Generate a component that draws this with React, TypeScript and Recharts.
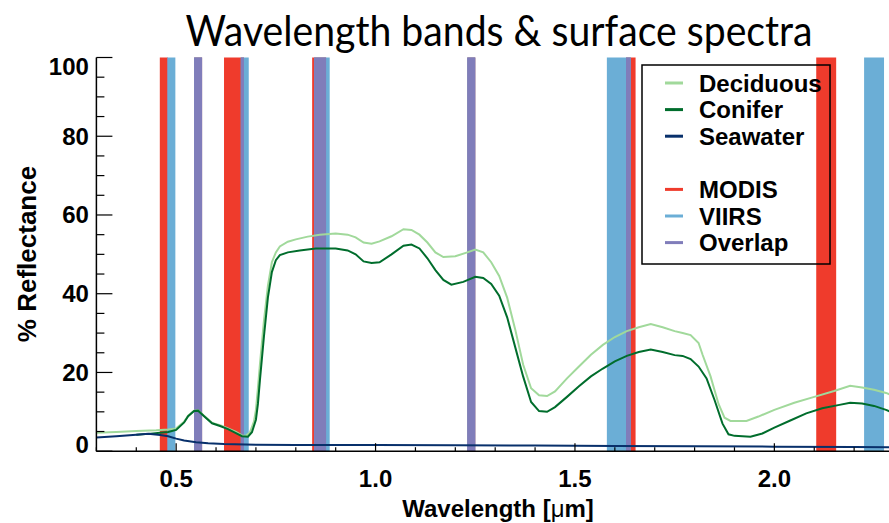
import React from 'react';
import { LineChart, Line, XAxis, YAxis, ReferenceArea } from 'recharts';

// wavelength [um], % reflectance
const deciduousSpectrum: [number, number][] = [
  [0.3, 4.7], [0.35, 4.9], [0.4, 5.1], [0.45, 5.3], [0.48, 5.5], [0.5, 5.8], [0.52, 7.5],
  [0.53, 9.0], [0.545, 10.3], [0.555, 10.4], [0.57, 9.0], [0.59, 7.2], [0.61, 6.6], [0.63, 5.8],
  [0.65, 4.9], [0.665, 4.0], [0.675, 3.9], [0.685, 4.8], [0.695, 7.5], [0.7, 10.5], [0.705, 16],
  [0.71, 22], [0.72, 33], [0.73, 42], [0.74, 48], [0.75, 50.5], [0.76, 52], [0.78, 53.2],
  [0.8, 53.8], [0.83, 54.5], [0.86, 55.0], [0.9, 55.3], [0.93, 55.0], [0.95, 54.3], [0.97, 53.0],
  [0.99, 52.7], [1.01, 53.3], [1.04, 54.6], [1.07, 56.4], [1.09, 56.2], [1.11, 55.0], [1.13, 53.0],
  [1.15, 50.5], [1.17, 49.3], [1.2, 49.5], [1.23, 50.5], [1.25, 51.2], [1.27, 50.5], [1.29, 48.0],
  [1.31, 44.5], [1.33, 39], [1.35, 31], [1.37, 22], [1.39, 16], [1.41, 14.2], [1.43, 14.0],
  [1.45, 15.2], [1.48, 18.5], [1.51, 21.5], [1.54, 24.5], [1.57, 27.0], [1.6, 29.0], [1.63, 30.5],
  [1.66, 31.5], [1.69, 32.3], [1.72, 31.5], [1.75, 30.5], [1.77, 30.0], [1.79, 29.5], [1.81, 27.5],
  [1.82, 24.5], [1.84, 19], [1.86, 12], [1.875, 8.5], [1.89, 7.7], [1.93, 7.7], [1.96, 8.8],
  [2.0, 10.5], [2.05, 12.3], [2.1, 13.8], [2.15, 15.3], [2.19, 16.6], [2.22, 16.2], [2.25, 15.6],
  [2.28, 14.8], [2.3, 14.0],
];

const coniferSpectrum: [number, number][] = [
  [0.4, 4.2], [0.43, 4.4], [0.46, 4.7], [0.48, 4.9], [0.5, 5.4], [0.52, 7.3], [0.53, 8.9],
  [0.545, 10.2], [0.555, 10.3], [0.57, 8.9], [0.59, 7.1], [0.61, 6.4], [0.63, 5.6], [0.65, 4.6],
  [0.665, 3.8], [0.68, 3.7], [0.69, 4.8], [0.7, 8], [0.705, 12], [0.71, 18], [0.72, 29],
  [0.73, 39], [0.74, 45.5], [0.75, 48.5], [0.76, 49.8], [0.78, 50.5], [0.81, 51.0], [0.85, 51.5],
  [0.9, 51.5], [0.93, 51.0], [0.95, 50.0], [0.97, 48.2], [0.99, 47.8], [1.01, 48.0], [1.04, 50.0],
  [1.07, 52.2], [1.09, 52.5], [1.11, 51.5], [1.13, 49.0], [1.15, 46.0], [1.17, 43.5], [1.19, 42.3],
  [1.22, 43.0], [1.25, 44.3], [1.27, 44.0], [1.29, 42.5], [1.31, 39.5], [1.33, 34.0], [1.35, 26.5],
  [1.37, 19], [1.39, 12.5], [1.41, 10.2], [1.43, 10.0], [1.45, 11.2], [1.48, 13.8], [1.51, 16.5],
  [1.54, 19.0], [1.57, 21.0], [1.6, 22.8], [1.63, 24.2], [1.66, 25.2], [1.69, 25.8], [1.72, 25.2],
  [1.75, 24.4], [1.77, 24.2], [1.79, 23.4], [1.81, 21.5], [1.83, 18.5], [1.85, 13], [1.87, 7],
  [1.885, 4.3], [1.9, 3.9], [1.94, 3.7], [1.97, 4.5], [2.0, 6.0], [2.04, 7.8], [2.08, 9.6],
  [2.12, 10.9], [2.16, 11.7], [2.19, 12.3], [2.22, 12.1], [2.25, 11.5], [2.28, 10.5], [2.3, 9.6],
];

const seawaterSpectrum: [number, number][] = [
  [0.3, 3.5], [0.35, 3.8], [0.4, 4.2], [0.43, 4.4], [0.46, 4.1], [0.48, 3.8], [0.5, 3.2],
  [0.52, 2.7], [0.55, 2.3], [0.58, 2.0], [0.62, 1.8], [0.7, 1.65], [0.8, 1.6], [1.0, 1.55],
  [1.2, 1.5], [1.4, 1.45], [1.6, 1.35], [1.8, 1.25], [2.0, 1.15], [2.2, 1.05], [2.3, 1.0],
];

// sensor band limits [um]
const modisBands: [number, number][] = [
  [0.459, 0.479], [0.545, 0.565], [0.62, 0.67], [0.841, 0.876], [1.23, 1.25], [1.628, 1.652], [2.105, 2.155],
];
const viirsBands: [number, number][] = [
  [0.478, 0.498], [0.545, 0.565], [0.662, 0.682], [0.846, 0.885], [1.23, 1.25], [1.58, 1.64], [2.225, 2.275],
];

const xTicks = [0.3, 0.4, 0.5, 0.6, 0.7, 0.8, 0.9, 1.0, 1.1, 1.2, 1.3, 1.4, 1.5, 1.6, 1.7, 1.8, 1.9, 2.0, 2.1, 2.2, 2.3];
const yTicks = [0, 5, 10, 15, 20, 25, 30, 35, 40, 45, 50, 55, 60, 65, 70, 75, 80, 85, 90, 95, 100];

const COLORS = {
  deciduous: '#a1d99b',
  conifer: '#006d2c',
  seawater: '#08306b',
  modis: '#ef3b2c',
  viirs: '#6baed6',
  overlap: '#807dba',
};

const legendRows = [
  { label: 'Deciduous', color: COLORS.deciduous },
  { label: 'Conifer', color: COLORS.conifer },
  { label: 'Seawater', color: COLORS.seawater },
  null,
  { label: 'MODIS', color: COLORS.modis },
  { label: 'VIIRS', color: COLORS.viirs },
  { label: 'Overlap', color: COLORS.overlap },
];

const FONT = '"Liberation Sans", Arial, Helvetica, sans-serif';

const toPoints = (s: [number, number][]) => s.map(([w, r]) => ({ w, r }));

const overlapBands = modisBands
  .map((m, i) => [Math.max(m[0], viirsBands[i][0]), Math.min(m[1], viirsBands[i][1])] as [number, number])
  .filter(([a, b]) => b > a);

const isMajorX = (v: number) => Math.abs(v * 2 - Math.round(v * 2)) < 1e-6;
const isMajorY = (v: number) => v % 20 === 0;

const BottomTick = (props: any) => {
  const { x, y, payload } = props;
  const v = payload.value as number;
  const major = isMajorX(v);
  return (
    <g>
      <line x1={x} x2={x} y1={y} y2={y - (major ? 8 : 4)} stroke="#000" strokeWidth={1.2} />
      {major && (
        <text x={x} y={y + 36} textAnchor="middle" fontSize={24} fontWeight="bold" fontFamily={FONT} fill="#000">
          {v.toFixed(1)}
        </text>
      )}
    </g>
  );
};

const TopTick = (props: any) => {
  const { x, y, payload } = props;
  const major = isMajorX(payload.value);
  return <line x1={x} x2={x} y1={y} y2={y + (major ? 8 : 4)} stroke="#000" strokeWidth={1.2} />;
};

const LeftTick = (props: any) => {
  const { x, y, payload } = props;
  const v = payload.value as number;
  const major = isMajorY(v);
  // IDL keeps the end labels inside the axis range
  const shift = v === 100 ? 8.5 : v === 0 ? -7 : 0;
  return (
    <g>
      <line x1={x} x2={x + (major ? 16 : 8)} y1={y} y2={y} stroke="#000" strokeWidth={1.2} />
      {major && (
        <text x={x - 7.5} y={y + shift + 8.5} textAnchor="end" fontSize={24} fontWeight="bold" fontFamily={FONT} fill="#000">
          {v}
        </text>
      )}
    </g>
  );
};

const RightTick = (props: any) => {
  const { x, y, payload } = props;
  const major = isMajorY(payload.value);
  return <line x1={x} x2={x - (major ? 16 : 8)} y1={y} y2={y} stroke="#000" strokeWidth={1.2} />;
};

const App: React.FC = () => {
  return (
    <div style={{ position: 'absolute', left: 0, top: 0, width: 889, height: 523, overflow: 'hidden', background: '#fff' }}>
      <LineChart width={900} height={523} margin={{ top: 57.5, right: 6, bottom: 0, left: 0 }}>
        <XAxis
          xAxisId="b"
          orientation="bottom"
          type="number"
          dataKey="w"
          domain={[0.3, 2.3]}
          allowDataOverflow
          ticks={xTicks}
          interval={0}
          height={71.8}
          tickSize={0}
          tickMargin={0}
          tickLine={false}
          axisLine={{ stroke: '#000', strokeWidth: 1.5 }}
          tick={BottomTick}
        />
        <XAxis
          xAxisId="t"
          orientation="top"
          type="number"
          dataKey="w"
          domain={[0.3, 2.3]}
          allowDataOverflow
          ticks={xTicks}
          interval={0}
          height={0}
          tickSize={0}
          tickMargin={0}
          tickLine={false}
          axisLine={{ stroke: '#000', strokeWidth: 1.5 }}
          tick={TopTick}
        />
        <YAxis
          yAxisId="l"
          orientation="left"
          type="number"
          domain={[0, 100]}
          ticks={yTicks}
          interval={0}
          width={96.4}
          tickSize={0}
          tickMargin={0}
          tickLine={false}
          axisLine={{ stroke: '#000', strokeWidth: 1.5 }}
          tick={LeftTick}
        />
        <YAxis
          yAxisId="r"
          orientation="right"
          type="number"
          domain={[0, 100]}
          ticks={yTicks}
          interval={0}
          width={0}
          tickSize={0}
          tickMargin={0}
          tickLine={false}
          axisLine={{ stroke: '#000', strokeWidth: 1.5 }}
          tick={RightTick}
        />

        {modisBands.map(([a, b], i) => (
          <ReferenceArea key={`m${i}`} xAxisId="b" yAxisId="l" x1={a} x2={b} y1={0} y2={100}
            fill={COLORS.modis} fillOpacity={1} stroke="none" />
        ))}
        {viirsBands.map(([a, b], i) => (
          <ReferenceArea key={`v${i}`} xAxisId="b" yAxisId="l" x1={a} x2={b} y1={0} y2={100}
            fill={COLORS.viirs} fillOpacity={1} stroke="none" />
        ))}
        {overlapBands.map(([a, b], i) => (
          <ReferenceArea key={`o${i}`} xAxisId="b" yAxisId="l" x1={a} x2={b} y1={0} y2={100}
            fill={COLORS.overlap} fillOpacity={1} stroke="none" />
        ))}

        <Line xAxisId="b" yAxisId="l" data={toPoints(deciduousSpectrum)} dataKey="r" type="linear"
          stroke={COLORS.deciduous} strokeWidth={2} dot={false} isAnimationActive={false} />
        <Line xAxisId="b" yAxisId="l" data={toPoints(coniferSpectrum)} dataKey="r" type="linear"
          stroke={COLORS.conifer} strokeWidth={2} dot={false} isAnimationActive={false} />
        <Line xAxisId="b" yAxisId="l" data={toPoints(seawaterSpectrum)} dataKey="r" type="linear"
          stroke={COLORS.seawater} strokeWidth={2} dot={false} isAnimationActive={false} />
      </LineChart>

      <svg width={889} height={523} style={{ position: 'absolute', left: 0, top: 0, pointerEvents: 'none' }}>
        <text x={499} y={46} textAnchor="middle" fontSize={42} fontFamily="Lato, 'Open Sans', sans-serif"
          textLength={627} lengthAdjust="spacingAndGlyphs" fill="#000">
          Wavelength bands &amp; surface spectra
        </text>
        <text x={498} y={517} textAnchor="middle" fontSize={24} fontWeight="bold" fontFamily={FONT} fill="#000">
          Wavelength [<tspan fontWeight="normal">μ</tspan>m]
        </text>
        <text x={0} y={0} transform="translate(27,254) rotate(-90)" textAnchor="middle" dominantBaseline="central"
          fontSize={26} fontWeight="bold" fontFamily={FONT} fill="#000">
          % Reflectance
        </text>

        <rect x={642} y={65} width={188} height={199} fill="none" stroke="#000" strokeWidth={1.5} />
        {legendRows.map((row, i) =>
          row ? (
            <g key={row.label}>
              <line x1={665} x2={683} y1={83 + i * 26.6} y2={83 + i * 26.6} stroke={row.color} strokeWidth={3} />
              <text x={699} y={83 + i * 26.6 + 8.6} fontSize={24} fontWeight="bold" fontFamily={FONT} fill="#000">
                {row.label}
              </text>
            </g>
          ) : null
        )}
      </svg>
    </div>
  );
};

export default App;
